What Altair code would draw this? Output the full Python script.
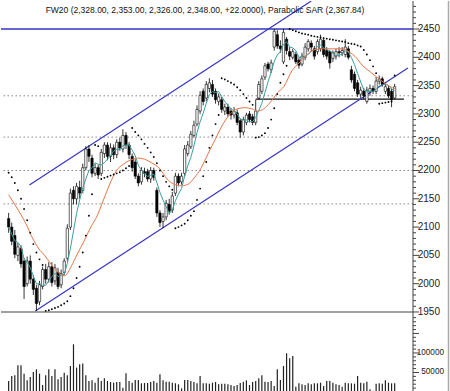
import altair as alt
import pandas as pd

# ---------------- data ----------------
opens = [
    2115, 2100, 2085, 2050, 2062, 2040, 2000, 2040, 2008, 1992,
    1968, 1995, 2025, 2008, 2030, 2005, 2020, 1998, 2020, 2045,
    2100, 2165, 2150, 2170, 2165, 2205, 2238, 2222, 2195, 2205,
    2195, 2230, 2245, 2225, 2240, 2228, 2250, 2238, 2262, 2245,
    2225, 2215, 2190, 2180, 2198, 2198, 2185, 2200, 2165, 2125,
    2110, 2118, 2140, 2130, 2160, 2190, 2180, 2195, 2230, 2242,
    2262, 2282, 2305, 2340, 2328, 2345, 2352, 2340, 2322, 2325,
    2305, 2312, 2305, 2298, 2302, 2288, 2268, 2285, 2300, 2295,
    2285, 2328, 2340, 2365, 2388, 2378, 2418, 2440, 2420, 2392,
    2432, 2410, 2400, 2405, 2395, 2388, 2400, 2415, 2425, 2415,
    2410, 2415, 2430, 2412, 2410, 2398, 2402, 2410, 2408, 2405,
    2415, 2378, 2370, 2355, 2335, 2340, 2322, 2340, 2345, 2340,
    2358, 2362, 2340, 2345, 2340, 2328]
closes = [
    2100, 2075, 2052, 2065, 2035, 1995, 2040, 2008, 1990, 1965,
    1998, 2025, 2008, 2030, 2002, 2028, 1995, 2018, 2040, 2098,
    2160, 2150, 2172, 2160, 2205, 2238, 2225, 2195, 2205, 2192,
    2232, 2245, 2225, 2240, 2228, 2250, 2240, 2262, 2245, 2228,
    2205, 2190, 2178, 2200, 2195, 2185, 2200, 2188, 2125, 2108,
    2118, 2142, 2128, 2155, 2190, 2178, 2190, 2238, 2245, 2264,
    2280, 2308, 2333, 2322, 2352, 2355, 2335, 2325, 2330, 2308,
    2312, 2300, 2298, 2305, 2285, 2268, 2290, 2298, 2290, 2285,
    2305, 2352, 2362, 2385, 2380, 2390, 2446, 2420, 2415, 2444,
    2412, 2402, 2410, 2392, 2386, 2402, 2418, 2428, 2418, 2402,
    2428, 2432, 2405, 2402, 2390, 2408, 2410, 2408, 2412, 2418,
    2400, 2360, 2345, 2335, 2342, 2332, 2342, 2345, 2340, 2358,
    2362, 2352, 2348, 2332, 2325, 2348]
highs = [
    2125, 2108, 2095, 2072, 2068, 2045, 2048, 2050, 2015, 1998,
    2005, 2030, 2035, 2038, 2038, 2035, 2028, 2025, 2045, 2105,
    2168, 2172, 2178, 2182, 2212, 2243, 2245, 2228, 2212, 2210,
    2238, 2250, 2250, 2248, 2246, 2255, 2258, 2273, 2268, 2250,
    2230, 2220, 2195, 2206, 2205, 2203, 2206, 2205, 2170, 2130,
    2125, 2148, 2150, 2162, 2196, 2195, 2196, 2245, 2252, 2270,
    2288, 2315, 2340, 2345, 2358, 2363, 2360, 2345, 2336, 2330,
    2318, 2318, 2310, 2312, 2308, 2292, 2295, 2302, 2305, 2300,
    2325, 2358, 2368, 2390, 2392, 2396, 2450, 2448, 2430, 2450,
    2436, 2418, 2415, 2410, 2400, 2408, 2425, 2432, 2430, 2420,
    2432, 2440, 2435, 2418, 2412, 2412, 2415, 2418, 2418, 2432,
    2420, 2385, 2375, 2360, 2348, 2346, 2348, 2352, 2350, 2365,
    2368, 2366, 2355, 2350, 2345, 2353]
lows = [
    2090, 2068, 2045, 2040, 2028, 1973, 1995, 2000, 1980, 1952,
    1962, 1990, 2000, 2002, 1995, 1998, 1990, 1992, 2015, 2040,
    2095, 2140, 2140, 2150, 2160, 2200, 2215, 2188, 2190, 2185,
    2190, 2222, 2218, 2215, 2220, 2222, 2235, 2232, 2238, 2220,
    2198, 2185, 2172, 2175, 2188, 2180, 2178, 2182, 2118, 2100,
    2098, 2112, 2122, 2125, 2155, 2172, 2175, 2190, 2225, 2238,
    2258, 2278, 2300, 2315, 2322, 2338, 2330, 2318, 2315, 2302,
    2298, 2295, 2290, 2292, 2280, 2258, 2262, 2280, 2285, 2280,
    2280, 2325, 2335, 2360, 2375, 2372, 2412, 2415, 2408, 2388,
    2405, 2395, 2396, 2388, 2380, 2384, 2395, 2410, 2410, 2396,
    2405, 2410, 2400, 2396, 2380, 2392, 2396, 2400, 2402, 2400,
    2396, 2355, 2340, 2330, 2328, 2326, 2318, 2332, 2335, 2335,
    2352, 2348, 2335, 2328, 2312, 2326]
volumes = [
    28200, 41000, 42700, 68400, 68400, 47000, 29900, 38500, 51300, 58100,
    47000, 18000, 42700, 58100, 41000, 58100, 32500, 38500, 49600, 42700,
    66700, 122300, 62400, 71000, 72700, 42700, 28200, 29900, 23900, 36800,
    28200, 35000, 28200, 25600, 23900, 25600, 25600, 11100, 47900, 28200,
    23900, 30800, 30800, 22200, 23100, 23100, 25600, 28200, 23900, 45300,
    29900, 26500, 26500, 23900, 22200, 19700, 9400, 30800, 30800, 28200,
    25600, 22200, 41000, 22200, 22200, 21400, 23900, 25600, 19700, 21400,
    21400, 19700, 18000, 15400, 18000, 23100, 26500, 29900, 18000, 25600,
    28200, 35000, 42700, 26500, 25600, 28200, 15400, 58100, 30800, 66700,
    99200, 86400, 92300, 13700, 22200, 19700, 18000, 22200, 19700, 22200,
    22200, 23900, 15400, 28200, 28200, 23900, 19700, 18000, 13700, 23900,
    22200, 22200, 21400, 41000, 23900, 22200, 26500, 6800, 3000, 21400,
    22200, 21400, 29900, 23900, 22200, 22200]
sar = [
    2196, 2188, 2178, 2165, 2150, 2132, 2112, 2090, 2070, 2055,
    2043, 2033, 1952, 1953, 1955, 1957, 1959, 1962, 1965, 1969,
    1978, 1992, 2010, 2030, 2055, 2085, 2120, 2158, 2245, 2243,
    2185, 2187, 2189, 2191, 2193, 2195, 2197, 2200, 2204, 2208,
    2275, 2268, 2262, 2255, 2247, 2240, 2232, 2224, 2213, 2200,
    2190, 2180, 2172, 2166, 2098, 2100, 2103, 2106, 2112, 2120,
    2128, 2148, 2168, 2190, 2215, 2240, 2262, 2282, 2298, 2363,
    2361, 2358, 2355, 2352, 2347, 2342, 2335, 2328, 2322, 2316,
    2258, 2259, 2262, 2266, 2275, 2290, 2310, 2335, 2355, 2370,
    2385, 2450, 2448, 2446, 2444, 2442, 2441, 2440, 2438, 2437,
    2436, 2435, 2434, 2433, 2432, 2431, 2430, 2429, 2428, 2427,
    2425, 2424, 2423, 2421, 2419, 2413, 2405, 2395, 2384, 2372,
    2318, 2319, 2320, 2321, 2322, 2367.84]

# long moving average (orange), read at sample points
ma_long_idx = [0, 2.3, 5.5, 7.7, 9.6, 11.8, 13.4, 15.6, 18.1, 20.3, 22.2, 24.4,
               26.6, 28.5, 30.7, 32.9, 34.8, 37.1, 39.3, 41.8, 44.0, 46.5, 48.8,
               51.3, 53.5, 56.0, 58.2, 60.1, 62.3, 63.9, 65.5, 67.1, 68.7, 70.2,
               71.8, 74.0, 76.6, 78.8, 80.7, 82.6, 84.5, 87.0, 89.2, 91.7, 94.0,
               96.1, 98.7, 101.8, 105.0, 108.1, 110.4, 112.3, 114.5, 116.7,
               119.2, 121.4, 123.3, 125.2]
ma_long_val = [2157, 2137, 2107, 2081, 2063, 2049, 2037, 2022, 2014, 2031, 2052,
               2075, 2100, 2118, 2148, 2178, 2199, 2211, 2218, 2222, 2220, 2213,
               2204, 2185, 2176, 2173, 2176, 2187, 2204, 2222, 2240, 2257, 2275,
               2289, 2300, 2309, 2311, 2309, 2305, 2309, 2319, 2337, 2349, 2376,
               2390, 2402, 2413, 2415, 2415, 2415, 2409, 2401, 2386, 2376, 2365,
               2356, 2349, 2344]

fib_levels = [2332, 2259, 2200, 2141]
top_level = 2450
bottom_level = 1950
support_level = 2326
support_from, support_to = 80, 128
channel_upper = ([6.73, 98.0], [2174.4, 2499.5])
channel_lower = ([8.63, 129.3], [1951.8, 2381.0])

price_labels = [1950, 2000, 2050, 2100, 2150, 2200, 2250, 2300, 2350, 2400, 2450]
price_minor = [v for v in range(1940, 2500, 10) if v % 50 != 0]
vol_labels = [50000, 100000]
vol_major = [50000, 100000, 150000]
vol_minor = [v for v in range(10000, 190000, 10000) if v not in vol_major]

title_text = "FW20 (2,328.00, 2,353.00, 2,326.00, 2,348.00, +22.0000), Parabolic SAR (2,367.84)"

# ---------------- tables ----------------
df = pd.DataFrame({
    "i": list(range(len(closes))), "open": opens, "high": highs,
    "low": lows, "close": closes, "vol": volumes, "sar": sar,
})
ma_df = pd.DataFrame({"i": ma_long_idx, "v": ma_long_val})
fib_df = pd.DataFrame({"y": fib_levels})
chan_df = pd.DataFrame({
    "i": channel_upper[0] + channel_lower[0],
    "p": channel_upper[1] + channel_lower[1],
    "line": ["up", "up", "low", "low"],
})
sup_df = pd.DataFrame({"x": [support_from], "x2": [support_to], "y": [support_level]})

FONT = "Liberation Sans, Arial, sans-serif"
W, H = 412, 391
PRICE_BOTTOM = 318
xs = alt.Scale(domain=[-0.853, 129.32], nice=False, zero=False)
ys = alt.Scale(domain=[1937.6, 2499.5], range=[PRICE_BOTTOM, 0], nice=False, zero=False)
vs = alt.Scale(domain=[0, 187000], range=[H, PRICE_BOTTOM], nice=False, zero=False)
X = alt.X("i:Q", scale=xs, axis=None)


def Yp(field):
    return alt.Y(field, scale=ys, axis=None)


def Yv(field):
    return alt.Y(field, scale=vs, axis=None)


def tick_layer(values, scale, length):
    return alt.Chart(pd.DataFrame({"v": values})).mark_rule(color="#444", strokeWidth=1).encode(
        x=alt.value(W), x2=alt.value(W + length), y=alt.Y("v:Q", scale=scale, axis=None))


def label_layer(values, scale, size, right):
    return alt.Chart(pd.DataFrame({"v": values})).mark_text(
        font=FONT, fontSize=size, color="#222", align="right", baseline="middle"
    ).encode(x=alt.value(right), y=alt.Y("v:Q", scale=scale, axis=None),
             text=alt.Text("v:Q", format="d"))


one = pd.DataFrame({"a": [0]})
axis_line = alt.Chart(one).mark_rule(color="#444", strokeWidth=1).encode(
    x=alt.value(W), y=alt.value(0), y2=alt.value(H))
border = alt.Chart(one).mark_rule(color="#aaa", strokeWidth=1.5).encode(
    x=alt.value(447.5), y=alt.value(0), y2=alt.value(H))

rules_fib = alt.Chart(fib_df).mark_rule(color="#888", strokeDash=[1.5, 2.5], strokeWidth=1).encode(
    y=Yp("y:Q"))
rule_bottom = alt.Chart(pd.DataFrame({"y": [bottom_level]})).mark_rule(color="#a0a0a0", strokeWidth=2).encode(
    y=Yp("y:Q"))
rule_top = alt.Chart(pd.DataFrame({"y": [top_level]})).mark_rule(color="#3535c0", strokeWidth=1.3).encode(
    y=Yp("y:Q"))
rule_sup = alt.Chart(sup_df).mark_rule(color="#111", strokeWidth=1.3).encode(
    x=alt.X("x:Q", scale=xs, axis=None), x2="x2:Q", y=Yp("y:Q"))
channels = alt.Chart(chan_df).mark_line(color="#3535c8", strokeWidth=1.2, clip=True).encode(
    x=X, y=Yp("p:Q"), detail="line:N")

base = alt.Chart(df)
wicks = base.mark_rule(color="black", strokeWidth=0.8).encode(
    x=X, y=Yp("low:Q"), y2="high:Q")
bodies = base.mark_bar(size=2.3, stroke="black", strokeWidth=0.6).encode(
    x=X, y=Yp("open:Q"), y2="close:Q",
    fill=alt.condition("datum.close >= datum.open", alt.value("white"), alt.value("black")))
ma_short = base.transform_window(
    ma="mean(close)", frame=[-4, 0], sort=[alt.SortField("i")]
).mark_line(color="#3aa0a0", strokeWidth=1).encode(x=X, y=Yp("ma:Q"))
ma_long = alt.Chart(ma_df).mark_line(color="#e8744a", strokeWidth=1, interpolate="monotone").encode(
    x=X, y=Yp("v:Q"))
sar_pts = base.mark_circle(size=3.5, color="black", opacity=1).encode(
    x=X, y=Yp("sar:Q"))
vol_bars = base.mark_bar(size=1.2, color="#222").encode(
    x=X, y=Yv("vol:Q"), y2=alt.value(H))
title = alt.Chart(pd.DataFrame({"t": [title_text]})).mark_text(
    font=FONT, fontSize=8.5, color="#111", align="center", baseline="middle").encode(
    x=alt.value(204), y=alt.value(9), text="t:N")

chart = alt.layer(
    rules_fib, rule_bottom, rule_top, rule_sup, channels, wicks, bodies,
    ma_short, ma_long, sar_pts, vol_bars,
    axis_line, border,
    tick_layer(price_labels, ys, 6), tick_layer(price_minor, ys, 3),
    label_layer(price_labels, ys, 10, 439),
    tick_layer(vol_major, vs, 6), tick_layer(vol_minor, vs, 3),
    label_layer(vol_labels, vs, 8.2, 443),
    title,
).resolve_scale(y="independent").properties(
    width=W, height=H, padding=0, background="white"
).configure_view(stroke=None)

chart.save("out.html", embed_options={"renderer": "svg", "actions": False})
